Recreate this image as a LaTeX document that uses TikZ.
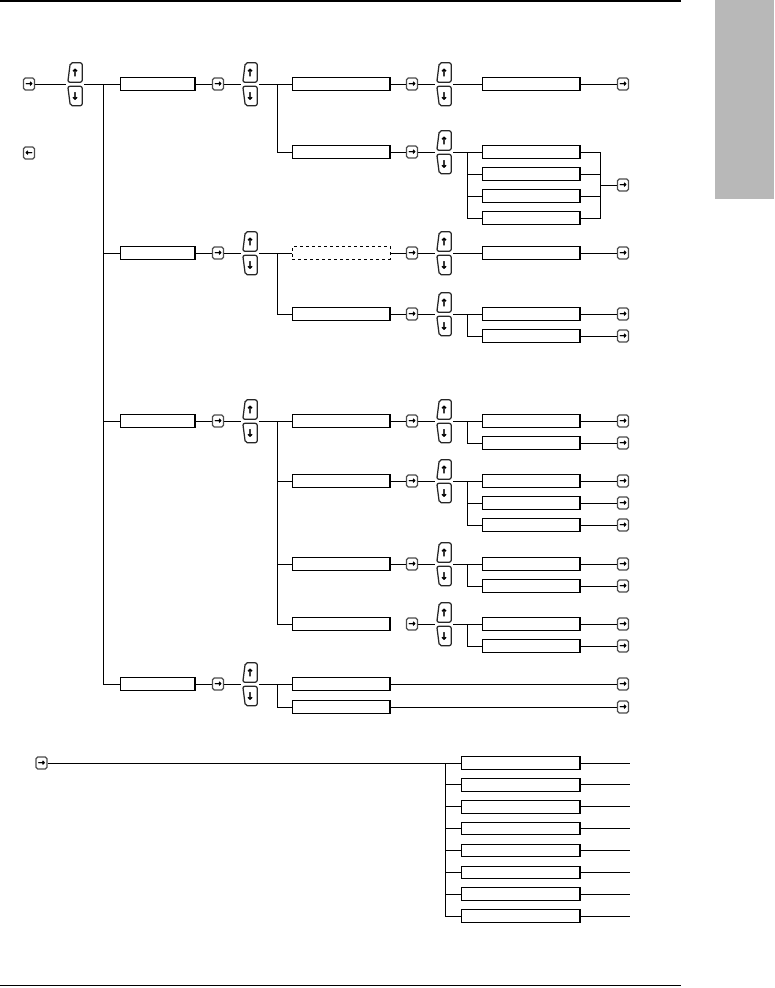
\documentclass[tikz,border=0pt]{standalone}
\usepackage{fontspec}
\newfontfamily\arr[FakeBold=2.5]{DejaVu Sans}
\usetikzlibrary{calc}
\newcommand\mkud[3]{%
 \node[udk] (#1u) at (#2,#3-11.5) {↑};
 \node[udk] (#1d) at (#2,#3+12) {↓};
 \draw[kb] (#1u.north east) -- (#1u.south east) -- (#1u.south west) -- ([xshift=2.5pt]#1u.north west) -- cycle;
 \draw[kb] (#1d.north east) -- (#1d.south east) -- ([xshift=2.5pt]#1d.south west) -- (#1d.north west) -- cycle;
 \coordinate (#1l) at (#2-9,#3);
 \coordinate (#1r) at (#2+9,#3);
}
\begin{document}
\begin{tikzpicture}[x=1pt,y=-1pt,
  ln/.style={line width=1pt,draw=black},
  ek/.style={draw=black!70,line width=1.3pt,rounded corners=1.8pt,minimum width=11pt,minimum height=12pt,inner sep=0pt,
    font=\arr\bfseries\fontsize{8.5}{8.5}\selectfont},
  udk/.style={minimum width=14pt,minimum height=19pt,inner sep=0pt,font=\arr\bfseries\fontsize{10}{10}\selectfont},
  kb/.style={line width=1.25pt,draw=black!85,rounded corners=2pt},
  bx/.style={draw,line width=0.9pt,minimum width=98pt,minimum height=12.5pt,inner sep=0pt,
    path picture={\draw[line width=2.4pt] (path picture bounding box.north east) -- (path picture bounding box.south east);}},
  bxs/.style={bx,minimum width=75pt},
  bxw/.style={bx,minimum width=119pt},
  bxd/.style={draw,dashed,line width=0.9pt,minimum width=98pt,minimum height=12.5pt,inner sep=0pt}
]
\useasboundingbox (0,0) rectangle (774,988);
% frame
\fill[fill={rgb,255:red,184;green,184;blue,184}] (715,0) rectangle (774,199);
\draw[line width=1.5pt] (0,1) -- (681,1);
\draw[line width=1.5pt] (0,985.5) -- (681,985.5);

% ---------- left start ----------
\node[ek] (k0) at (29,84) {→};
\node[ek] (kback) at (29,153) {←};
\mkud{a}{75}{84}
\draw[ln] (k0) -- (al);
\coordinate (t0) at (103,84);

% ---------- section A ----------
\node[bxs] (b1) at (157.5,84) {};
\draw[ln] (ar) -- (b1);
\node[ek] (e1) at (218,84) {→};
\mkud{u1}{250}{84}
\draw[ln] (b1) -- (e1);
\draw[ln] (e1) -- (u1l);
\coordinate (v1) at (277,84);
\node[bx] (c1) at (341,84) {};
\node[bx] (c2) at (341,152) {};
\draw[ln] (u1r) -- (c1);
\draw[ln] (v1) |- (c2);
\node[ek] (e2) at (412,84) {→};
\mkud{u2}{444}{84}
\draw[ln] (c1) -- (e2);
\draw[ln] (e2) -- (u2l);
\node[bx] (d1) at (531,84) {};
\draw[ln] (u2r) -- (d1);
\node[ek] (f1) at (623,84) {→};
\draw[ln] (d1) -- (f1);
\node[ek] (e3) at (412,152) {→};
\mkud{u3}{444}{152}
\draw[ln] (c2) -- (e3);
\draw[ln] (e3) -- (u3l);
\coordinate (v2) at (467,152);
\node[bx] (d2) at (531,152) {};
\node[bx] (d3) at (531,174) {};
\node[bx] (d4) at (531,196) {};
\node[bx] (d5) at (531,218) {};
\draw[ln] (u3r) -- (d2);
\draw[ln] (v2) |- (d5);
\draw[ln] (d3 -| v2) -- (d3);
\draw[ln] (d4 -| v2) -- (d4);
\coordinate (w1) at (600,152);
\draw[ln] (d2) -- (w1) |- (d5);
\draw[ln] (d3) -- (d3 -| w1);
\draw[ln] (d4) -- (d4 -| w1);
\node[ek] (f2) at (623,185) {→};
\draw[ln] (f2 -| w1) -- (f2);

% ---------- section B ----------
\node[bxs] (b2) at (157.5,253) {};
\draw[ln] (b2 -| t0) -- (b2);
\node[ek] (e4) at (218,253) {→};
\mkud{u4}{250}{253}
\draw[ln] (b2) -- (e4);
\draw[ln] (e4) -- (u4l);
\coordinate (v3) at (277,253);
\node[bxd] (c3) at (341,253) {};
\node[bx] (c4) at (341,314) {};
\draw[ln] (u4r) -- (c3);
\draw[ln] (v3) |- (c4);
\node[ek] (e5) at (412,253) {→};
\mkud{u5}{444}{253}
\draw[ln] (c3) -- (e5);
\draw[ln] (e5) -- (u5l);
\node[bx] (d6) at (531,253) {};
\draw[ln] (u5r) -- (d6);
\node[ek] (f3) at (623,253) {→};
\draw[ln] (d6) -- (f3);
\node[ek] (e6) at (412,314) {→};
\mkud{u6}{444}{314}
\draw[ln] (c4) -- (e6);
\draw[ln] (e6) -- (u6l);
\coordinate (v4) at (467,314);
\node[bx] (d7) at (531,314) {};
\node[bx] (d8) at (531,336) {};
\draw[ln] (u6r) -- (d7);
\draw[ln] (v4) |- (d8);
\node[ek] (f4) at (623,314) {→};
\node[ek] (f5) at (623,336) {→};
\draw[ln] (d7) -- (f4);
\draw[ln] (d8) -- (f5);

% ---------- section C ----------
\node[bxs] (b3) at (157.5,421) {};
\draw[ln] (b3 -| t0) -- (b3);
\node[ek] (e7) at (218,421) {→};
\mkud{u7}{250}{421}
\draw[ln] (b3) -- (e7);
\draw[ln] (e7) -- (u7l);
\coordinate (v5) at (277,421);
\node[bx] (c5) at (341,421) {};
\node[bx] (c6) at (341,481) {};
\node[bx] (c7) at (341,564) {};
\node[bx] (c8) at (341,624) {};
\draw[ln] (u7r) -- (c5);
\draw[ln] (v5) |- (c8);
\draw[ln] (c6 -| v5) -- (c6);
\draw[ln] (c7 -| v5) -- (c7);
% c5
\node[ek] (e8) at (412,421) {→};
\mkud{u8}{444}{421}
\draw[ln] (c5) -- (e8);
\draw[ln] (e8) -- (u8l);
\coordinate (v6) at (467,421);
\node[bx] (d9) at (531,421) {};
\node[bx] (d10) at (531,443) {};
\draw[ln] (u8r) -- (d9);
\draw[ln] (v6) |- (d10);
\node[ek] (f6) at (623,421) {→};
\node[ek] (f7) at (623,443) {→};
\draw[ln] (d9) -- (f6);
\draw[ln] (d10) -- (f7);
% c6
\node[ek] (e9) at (412,481) {→};
\mkud{u9}{444}{481}
\draw[ln] (c6) -- (e9);
\draw[ln] (e9) -- (u9l);
\coordinate (v7) at (467,481);
\node[bx] (d11) at (531,481) {};
\node[bx] (d12) at (531,503) {};
\node[bx] (d13) at (531,525) {};
\draw[ln] (u9r) -- (d11);
\draw[ln] (v7) |- (d13);
\draw[ln] (d12 -| v7) -- (d12);
\node[ek] (f8) at (623,481) {→};
\node[ek] (f9) at (623,503) {→};
\node[ek] (f10) at (623,525) {→};
\draw[ln] (d11) -- (f8);
\draw[ln] (d12) -- (f9);
\draw[ln] (d13) -- (f10);
% c7
\node[ek] (e10) at (412,564) {→};
\mkud{u10}{444}{564}
\draw[ln] (c7) -- (e10);
\draw[ln] (e10) -- (u10l);
\coordinate (v8) at (467,564);
\node[bx] (d14) at (531,564) {};
\node[bx] (d15) at (531,586) {};
\draw[ln] (u10r) -- (d14);
\draw[ln] (v8) |- (d15);
\node[ek] (f11) at (623,564) {→};
\node[ek] (f12) at (623,586) {→};
\draw[ln] (d14) -- (f11);
\draw[ln] (d15) -- (f12);
% c8
\node[ek] (e11) at (412,624) {→};
\mkud{u11}{444}{624}
\draw[ln] (e11) -- (u11l);
\coordinate (v9) at (467,624);
\node[bx] (d16) at (531,624) {};
\node[bx] (d17) at (531,646) {};
\draw[ln] (u11r) -- (d16);
\draw[ln] (v9) |- (d17);
\node[ek] (f13) at (623,624) {→};
\node[ek] (f14) at (623,646) {→};
\draw[ln] (d16) -- (f13);
\draw[ln] (d17) -- (f14);

% ---------- section D ----------
\node[bxs] (b4) at (157.5,684) {};
\draw[ln] (t0) |- (b4);
\node[ek] (e12) at (218,684) {→};
\mkud{u12}{250}{684}
\draw[ln] (b4) -- (e12);
\draw[ln] (e12) -- (u12l);
\coordinate (v10) at (277,684);
\node[bx] (c9) at (341,684) {};
\node[bx] (c10) at (341,707) {};
\draw[ln] (u12r) -- (c9);
\draw[ln] (v10) |- (c10);
\node[ek] (f15) at (623,684) {→};
\node[ek] (f16) at (623,707) {→};
\draw[ln] (c9) -- (f15);
\draw[ln] (c10) -- (f16);

% ---------- bottom ----------
\node[ek] (k1) at (41.5,763) {→};
\coordinate (h) at (445,763);
\foreach \i in {0,...,7} {
  \node[bxw] (g\i) at (520.5,{763+21.86*\i}) {};
  \coordinate (ge\i) at (630,{763+21.86*\i});
  \draw[ln] (g\i) -- (ge\i);
  \draw[ln] (g\i.west -| h) -- (g\i);
}
\draw[ln] (k1) -- (h) -- (h |- g7);
\end{tikzpicture}
\end{document}
